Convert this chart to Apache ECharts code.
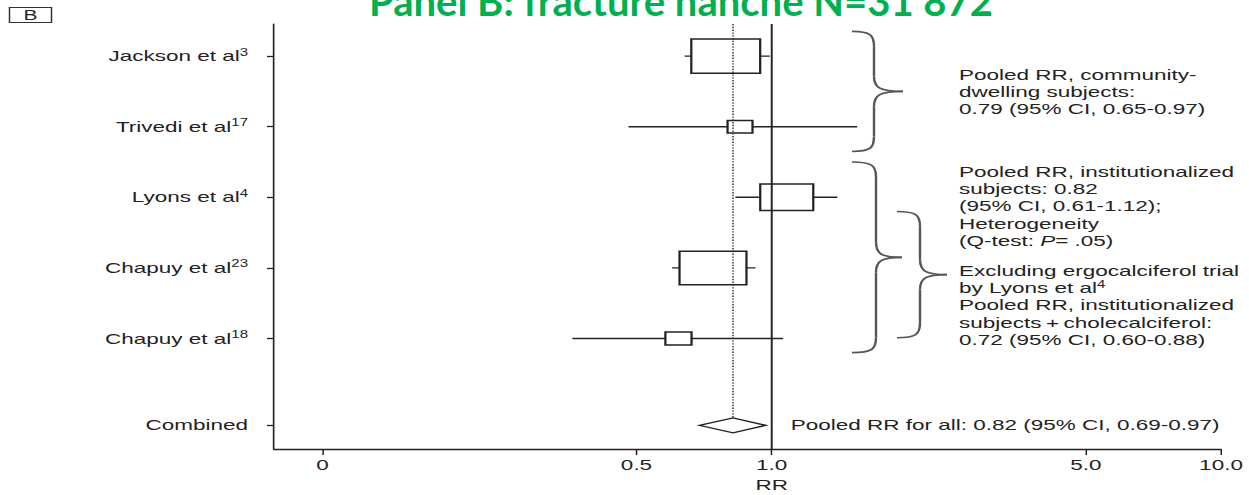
<!DOCTYPE html>
<html>
<head>
<meta charset="utf-8">
<script src="https://cdn.jsdelivr.net/npm/echarts@6/dist/echarts.min.js"></script>
<style>
  html, body { margin: 0; padding: 0; background: #fff; overflow: hidden; }
  #stage { width: 1249px; height: 495px; overflow: hidden; position: relative; }
  /* the figure is drawn narrow and widened horizontally, like the printed panel */
  #chart { width: 833px; height: 495px; transform-origin: 0 0; transform: scaleX(1.4994); }
</style>
</head>
<body>
<div id="stage"><div id="chart"></div></div>
<script>
// ---- data: vitamin D trials, hip fracture (relative risk, 95% CI) ----
const studyNames = ['Jackson et al', 'Trivedi et al', 'Lyons et al', 'Chapuy et al', 'Chapuy et al'];
const studyRefs = ['3', '17', '4', '23', '18'];
const studyRR = [0.79, 0.85, 1.08, 0.74, 0.62];
const studyLow = [0.64, 0.48, 0.83, 0.60, 0.36];
const studyHigh = [0.99, 1.55, 1.40, 0.92, 1.06];
const studyWeight = [28.7, 10.4, 22.1, 27.9, 10.9];

const pooledName = 'Combined';
const pooledRR = 0.82;
const pooledLow = 0.69;
const pooledHigh = 0.97;

const xTickValues = [0.1, 0.5, 1, 5, 10];
const xTickLabels = ['0', '0.5', '1.0', '5.0', '10.0'];
const xAxisTitle = 'RR';

const noteCommunity = ['Pooled RR, community-', 'dwelling subjects:', '0.79 (95% CI, 0.65-0.97)'];
const noteInstitution = ['Pooled RR, institutionalized', 'subjects: 0.82', '(95% CI, 0.61-1.12);', 'Heterogeneity', '(Q-test: {it|P}= .05)'];
const noteExcluding = ['Excluding ergocalciferol trial', 'by Lyons et al{sup|4}', 'Pooled RR, institutionalized', 'subjects\u2009+\u2009cholecalciferol:', '0.72 (95% CI, 0.60-0.88)'];

const panelTitle = 'Panel B: fracture hanche N=31 872';
const panelTag = 'B';

// ---- layout ----
const PAGE_W = 1249;
const CHART_W = 833;
const STRETCH = PAGE_W / CHART_W;
const px = v => v / STRETCH;            // page x distance -> chart x distance

const INK = '#222';
const BRACE_INK = '#555';
const FONT = '"Liberation Sans", Arial, Helvetica, sans-serif';
const NULL_EFFECT = 1;
const X_MIN = 0.078, X_MAX = 10;
const Y_MIN = -0.455, Y_MAX = 5.565;
const POOLED_GAP = 1.23;
const BOX_PER_WEIGHT = 1.2;
const BOX_ASPECT = 2 / STRETCH;
const DIAMOND_HALF = 7.5;

const pooledRow = studyNames.length - 1 + POOLED_GAP;
const rowPositions = studyNames.map((_, i) => i).concat([pooledRow]);

const fmt = v => v.toFixed(2);
const pooledText = `Pooled RR for all: ${fmt(pooledRR)} (95% CI, ${fmt(pooledLow)}-${fmt(pooledHigh)})`;

function rowLabel(v) {
  const i = rowPositions.findIndex(r => Math.abs(r - v) < 1e-6);
  if (i < 0) return '';
  if (i < studyNames.length) return `{n|${studyNames[i]}}{s|${studyRefs[i]}}`;
  return `{n|${pooledName}}`;
}

function xLabel(v) {
  const i = xTickValues.findIndex(t => Math.abs(t - v) / t < 1e-6);
  return i < 0 ? '' : xTickLabels[i];
}

function renderStudy(params, api) {
  const row = api.value(3);
  const mid = api.coord([api.value(0), row]);
  const lo = api.coord([api.value(1), row]);
  const hi = api.coord([api.value(2), row]);
  const h = api.value(4) * BOX_PER_WEIGHT;
  const w = h * BOX_ASPECT;
  return {
    type: 'group',
    children: [
      { type: 'line', shape: { x1: lo[0], y1: mid[1], x2: hi[0], y2: mid[1] },
        style: { stroke: INK, lineWidth: 1.4 } },
      { type: 'rect', shape: { x: mid[0] - w / 2, y: mid[1] - h / 2, width: w, height: h },
        style: { fill: '#fff', stroke: INK, lineWidth: 1.5 } }
    ]
  };
}

function renderPooled(params, api) {
  const row = api.value(3);
  const mid = api.coord([api.value(0), row]);
  const lo = api.coord([api.value(1), row]);
  const hi = api.coord([api.value(2), row]);
  const top = api.coord([api.value(0), Y_MIN])[1];
  const nullX = api.coord([NULL_EFFECT, row])[0];
  const bottom = api.coord([NULL_EFFECT, Y_MAX])[1];
  const dh = DIAMOND_HALF;
  return {
    type: 'group',
    children: [
      { type: 'line', shape: { x1: mid[0], y1: top, x2: mid[0], y2: mid[1] - dh },
        style: { stroke: '#333', lineWidth: 1, lineDash: [1.4, 1.4] } },
      { type: 'line', shape: { x1: nullX, y1: top, x2: nullX, y2: bottom },
        style: { stroke: INK, lineWidth: 1.3 } },
      { type: 'polygon',
        shape: { points: [[lo[0], mid[1]], [mid[0], mid[1] - dh], [hi[0], mid[1]], [mid[0], mid[1] + dh]] },
        style: { fill: '#fff', stroke: INK, lineWidth: 1.3 } },
      { type: 'text', x: hi[0] + px(25), y: mid[1],
        style: { text: pooledText, fill: INK, fontSize: 15, fontFamily: FONT, align: 'left', verticalAlign: 'middle' } }
    ]
  };
}

const chart = echarts.init(document.getElementById('chart'), null, { renderer: 'svg', width: CHART_W, height: 495 });

const option = {
  animation: false,
  backgroundColor: '#fff',
  grid: { left: px(274), right: CHART_W - px(1221), top: 24, bottom: 46 },
  xAxis: {
    type: 'log', logBase: 10, min: X_MIN, max: X_MAX,
    axisLine: { show: true, onZero: false, lineStyle: { color: INK, width: 1.4 } },
    axisTick: { show: true, customValues: xTickValues, length: 6, lineStyle: { color: INK, width: 1 } },
    axisLabel: { customValues: xTickValues, formatter: xLabel, color: INK, fontSize: 15, fontFamily: FONT, margin: 8 },
    splitLine: { show: false },
    minorTick: { show: false }
  },
  yAxis: {
    type: 'value', inverse: true, min: Y_MIN, max: Y_MAX,
    axisLine: { show: true, onZero: false, lineStyle: { color: INK, width: 1.1 } },
    axisTick: { show: true, customValues: rowPositions, length: px(7), lineStyle: { color: INK, width: 1.3 } },
    axisLabel: {
      customValues: rowPositions, formatter: rowLabel, margin: px(26),
      rich: {
        n: { fontSize: 15, fontFamily: FONT, color: INK, lineHeight: 18 },
        s: { fontSize: 10, fontFamily: FONT, color: INK, lineHeight: 10, verticalAlign: 'top' }
      }
    },
    splitLine: { show: false }
  },
  series: [
    {
      type: 'custom', name: 'studies', renderItem: renderStudy,
      encode: { x: [0, 1, 2], y: 3 },
      data: studyRR.map((v, i) => [v, studyLow[i], studyHigh[i], i, studyWeight[i]])
    },
    {
      type: 'custom', name: 'pooled', renderItem: renderPooled,
      encode: { x: [0, 1, 2], y: 3 },
      data: [[pooledRR, pooledLow, pooledHigh, pooledRow]]
    }
  ]
};

chart.setOption(option);

// ---- annotations: braces, notes, axis title, panel tag and title ----
const rowY = r => chart.convertToPixel({ yAxisIndex: 0 }, r);
const xAt = v => chart.convertToPixel({ xAxisIndex: 0 }, v);

const braceLayout = [
  { from: -0.35, to: 1.35, left: 852, stem: 874, tip: 903 },
  { from: 1.5, to: 4.2, left: 852, stem: 876, tip: 902 },
  { from: 2.2, to: 3.99, left: 897, stem: 920, tip: 947 }
];

function braceParts(b) {
  const xL = px(b.left), xS = px(b.stem), xT = px(b.tip);
  const yT = rowY(b.from), yB = rowY(b.to), yM = (yT + yB) / 2;
  const r = 15;
  const st = { stroke: BRACE_INK, lineWidth: 1.6, fill: null };
  return [
    { type: 'bezierCurve', shape: { x1: xL, y1: yT, cpx1: xL + (xS - xL) * 0.85, cpy1: yT, cpx2: xS, cpy2: yT + r * 0.25, x2: xS, y2: yT + r }, style: st },
    { type: 'line', shape: { x1: xS, y1: yT + r, x2: xS, y2: yM - r }, style: st },
    { type: 'bezierCurve', shape: { x1: xS, y1: yM - r, cpx1: xS, cpy1: yM - r * 0.25, cpx2: xS + (xT - xS) * 0.2, cpy2: yM, x2: xT, y2: yM }, style: st },
    { type: 'bezierCurve', shape: { x1: xT, y1: yM, cpx1: xS + (xT - xS) * 0.2, cpy1: yM, cpx2: xS, cpy2: yM + r * 0.25, x2: xS, y2: yM + r }, style: st },
    { type: 'line', shape: { x1: xS, y1: yM + r, x2: xS, y2: yB - r }, style: st },
    { type: 'bezierCurve', shape: { x1: xS, y1: yB - r, cpx1: xS, cpy1: yB - r * 0.25, cpx2: xL + (xS - xL) * 0.85, cpy2: yB, x2: xL, y2: yB }, style: st }
  ];
}

const noteRich = {
  it: { fontSize: 15, fontFamily: FONT, fill: INK, fontStyle: 'italic', lineHeight: 17.2 },
  sup: { fontSize: 10, fontFamily: FONT, fill: INK, lineHeight: 10, verticalAlign: 'top' }
};

function note(lines, x, yTop) {
  return {
    type: 'text', x: px(x), y: yTop,
    style: {
      text: lines.join('\n'), fill: INK, fontSize: 15, fontFamily: FONT,
      lineHeight: 17.2, align: 'left', verticalAlign: 'top', rich: noteRich
    }
  };
}

const graphics = [];
braceLayout.forEach(b => braceParts(b).forEach(p => graphics.push(p)));
graphics.push(note(noteCommunity, 959, 66.4));
graphics.push(note(noteInstitution, 959, 163.4));
graphics.push(note(noteExcluding, 959, 262.4));

graphics.push({
  type: 'text', x: xAt(NULL_EFFECT), y: 485,
  style: { text: xAxisTitle, fill: INK, fontSize: 15, fontFamily: FONT, align: 'center', verticalAlign: 'middle' }
});

graphics.push({
  type: 'rect', shape: { x: px(9.5), y: 7.5, width: px(42), height: 15 },
  style: { fill: '#fff', stroke: '#333', lineWidth: 1 }
});
graphics.push({
  type: 'text', x: px(30.5), y: 15,
  style: { text: panelTag, fill: INK, fontSize: 14, fontFamily: FONT, align: 'center', verticalAlign: 'middle' }
});

// panel heading, partly above the top edge as printed
graphics.push({
  type: 'text', x: px(681), y: 1, scaleX: 1 / STRETCH,
  style: { text: panelTitle, fill: '#00B050', fontSize: 40, fontWeight: 'bold', fontFamily: 'Lato, "Open Sans", sans-serif', align: 'center', verticalAlign: 'middle' }
});

chart.setOption({ graphic: { elements: graphics } });
</script>
</body>
</html>
